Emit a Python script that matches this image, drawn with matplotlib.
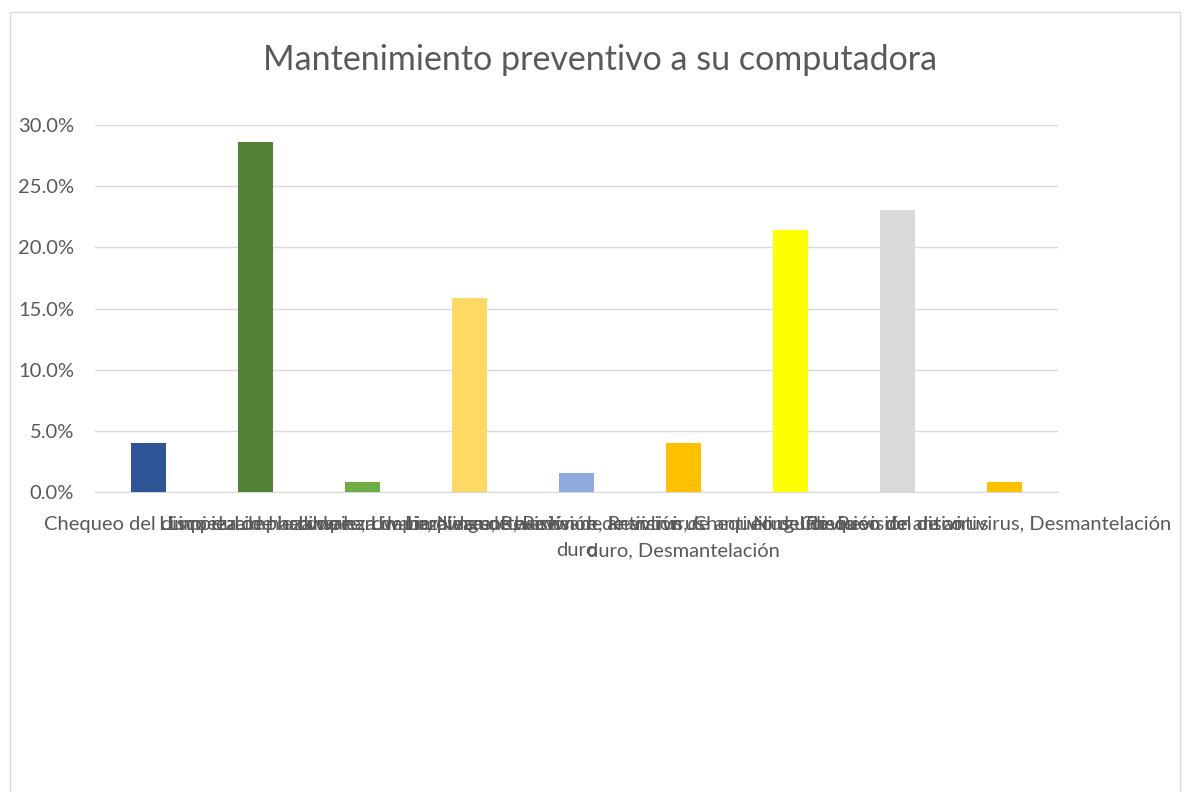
import matplotlib.pyplot as plt
from matplotlib.patches import Rectangle
from matplotlib.ticker import FuncFormatter

plt.rcParams['font.family'] = ['Lato', 'DejaVu Sans']

# categories (long answers overlap, as in the original Excel chart)
categorias = [
    "Chequeo del disco duro",
    "Limpieza de hardware",
    "Limpieza de hardware, Limpieza de software",
    "Limpieza de hardware, Ninguno, Revisión de antivirus",
    "Limpieza de hardware, Revisión de antivirus, Chequeo del disco\nduro",
    "Limpieza de hardware, Revisión de antivirus, Chequeo del disco\nduro, Desmantelación",
    "Ninguno",
    "Revisión de antivirus",
    "Revisión de antivirus, Desmantelación",
]
porcentajes = [0.0397, 0.2857, 0.0079, 0.1587, 0.0159, 0.0397, 0.2143, 0.2302, 0.0079]
colores = ["#2F5597", "#548235", "#70AD47", "#FFD966", "#8FAADC",
           "#FFC000", "#FFFF00", "#D9D9D9", "#FFC000"]

fig = plt.figure(figsize=(11.9, 7.92), dpi=100)

# chart area frame
fig.patches.append(Rectangle((10/1190, -0.01), 1170/1190, 1 - 12/792 + 0.01,
                             transform=fig.transFigure, fill=False,
                             edgecolor="#D9D9D9", linewidth=1))

ax = fig.add_axes([95/1190, 1 - 492/792, 963/1190, 367/792])
x = range(len(categorias))
ax.bar(x, porcentajes, width=0.32, color=colores, zorder=3)

ax.set_xlim(-0.5, len(categorias) - 0.5)
ax.set_ylim(0, 0.30)
ax.set_yticks([0, 0.05, 0.10, 0.15, 0.20, 0.25, 0.30])
ax.yaxis.set_major_formatter(FuncFormatter(lambda v, p: f"{v*100:.1f}%"))
ax.grid(axis="y", color="#D9D9D9", linewidth=1, zorder=0)

ax.set_xticks(list(x))
ax.set_xticklabels(categorias, ha="center", va="top", linespacing=1.7)
ax.tick_params(axis="both", length=0, colors="#595959", labelsize=14.5)
ax.tick_params(axis="x", pad=17)
ax.tick_params(axis="y", pad=15)

for s in ["top", "right", "left"]:
    ax.spines[s].set_visible(False)
ax.spines["bottom"].set_color("#D9D9D9")

fig.text(600/1190, 1 - 60/792, "Mantenimiento preventivo a su computadora",
         ha="center", va="center", fontsize=24.5, color="#595959")

fig.savefig("out.png", dpi=100)
